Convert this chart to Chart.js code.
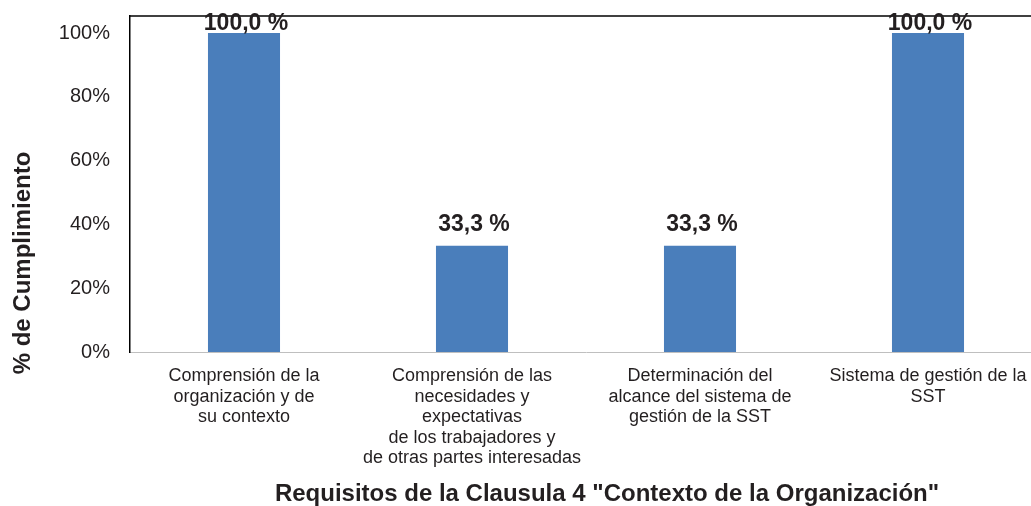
<!DOCTYPE html>
<html><head><meta charset="utf-8">
<script src="https://cdn.jsdelivr.net/npm/chart.js@4/dist/chart.umd.min.js"></script>
<style>html,body{margin:0;padding:0;overflow:hidden;background:#fff}#wrap{width:1045px;height:506px;position:relative}</style>
</head><body><div id="wrap"><canvas id="c" width="1045" height="506"></canvas></div>
<script>
const categories = [
  ["Comprensión de la", "organización y de", "su contexto"],
  ["Comprensión de las", "necesidades y", "expectativas", "de los trabajadores y", "de otras partes interesadas"],
  ["Determinación del", "alcance del sistema de", "gestión de la SST"],
  ["Sistema de gestión de la", "SST"]
];
const values = [100, 33.3, 33.3, 100];
const yTicks = [0, 20, 40, 60, 80, 100];
const yTitle = "% de Cumplimiento";
const xTitle = 'Requisitos de la Clausula 4 "Contexto de la Organización"';

const FONT = '"Liberation Sans", Arial, sans-serif';
const TEXT = '#231f20';
Chart.defaults.font.family = FONT;

const extras = {
  id: 'extras',
  afterDraw(chart) {
    const ctx = chart.ctx;
    const a = chart.chartArea;
    ctx.save();
    // top border
    ctx.strokeStyle = '#000';
    ctx.lineWidth = 1.5;
    ctx.beginPath();
    ctx.moveTo(a.left - 0.75, a.top);
    ctx.lineTo(a.right, a.top);
    ctx.stroke();
    // data labels
    const meta = chart.getDatasetMeta(0);
    ctx.fillStyle = TEXT;
    ctx.font = 'bold 23px ' + FONT;
    ctx.textAlign = 'center';
    ctx.textBaseline = 'alphabetic';
    meta.data.forEach((bar, i) => {
      const txt = values[i].toFixed(1).replace('.', ',') + ' %';
      const y = Math.max(bar.y - 15, 30);
      ctx.fillText(txt, bar.x + 2, y);
    });
    // y title
    ctx.font = 'bold 24px ' + FONT;
    ctx.save();
    ctx.translate(23, 263);
    ctx.rotate(-Math.PI / 2);
    ctx.textAlign = 'center';
    ctx.textBaseline = 'middle';
    ctx.fillText(yTitle, 0, 0);
    ctx.restore();
    // x title
    ctx.font = 'bold 24px ' + FONT;
    ctx.textAlign = 'center';
    ctx.textBaseline = 'alphabetic';
    ctx.fillText(xTitle, 607, 501);
    ctx.restore();
  }
};

new Chart(document.getElementById('c'), {
  type: 'bar',
  data: {
    labels: categories,
    datasets: [{
      data: values,
      backgroundColor: '#4a7ebb',
      borderWidth: 0,
      barPercentage: 0.316,
      categoryPercentage: 1
    }]
  },
  options: {
    responsive: false,
    animation: false,
    layout: { padding: { top: 16, left: 0, right: 3, bottom: 0 } },
    plugins: { legend: { display: false }, tooltip: { enabled: false } },
    scales: {
      x: {
        grid: { display: false, drawTicks: false },
        border: { display: true, color: '#bfbfbf', width: 1 },
        ticks: { color: TEXT, font: { size: 18, lineHeight: 1.14 }, padding: 14, maxRotation: 0, autoSkip: false },
        afterFit(s) { s.height = 154; s.paddingLeft = 0; s.paddingRight = 0; }
      },
      y: {
        min: 0,
        max: 105.33,
        grid: { display: false, drawTicks: false },
        border: { display: true, color: '#000', width: 1.5 },
        ticks: { color: TEXT, font: { size: 20 }, padding: 20, callback: v => v + '%' },
        afterBuildTicks(s) { s.ticks = yTicks.map(v => ({ value: v })); },
        afterFit(s) { s.width = 130; s.paddingTop = 0; s.paddingBottom = 0; }
      }
    }
  },
  plugins: [extras]
});
</script>
</body></html>
